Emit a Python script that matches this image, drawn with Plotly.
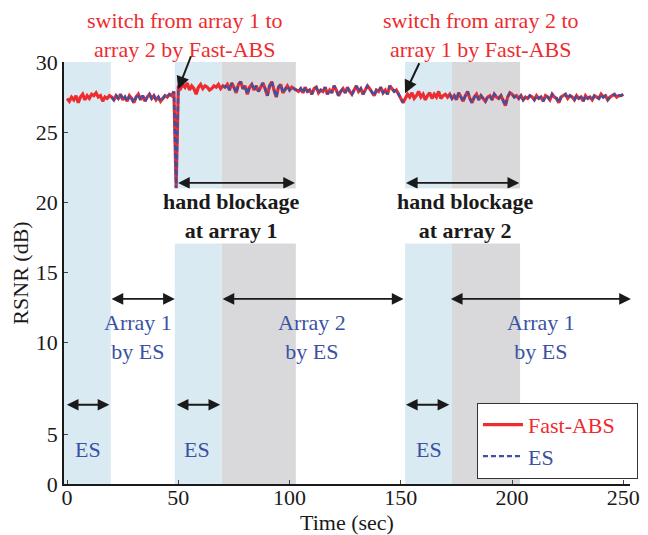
import plotly.graph_objects as go

# ---------------- data ----------------
time_sec = list(range(0, 251))

fast_abs = [
    27.4, 27.2, 27.5, 27.3, 27.6, 27.1, 27.5, 27.7, 27.3, 27.6,   # 0-9
    27.4, 27.7, 27.6, 27.8, 27.5, 27.6, 27.2, 27.5, 27.4, 27.6,   # 10-19
    27.5, 27.3, 27.6, 27.4, 27.7, 27.3, 27.5, 27.2, 27.6, 27.4,   # 20-29
    27.1, 27.5, 27.7, 27.3, 27.6, 27.2, 27.5, 27.7, 27.4, 27.6,   # 30-39
    27.3, 27.5, 27.2, 27.4, 27.6, 27.5, 27.7, 27.6, 27.9, 21.0,   # 40-49
    28.3, 28.1, 28.4, 28.2, 28.5, 28.0, 28.3, 28.1, 27.7, 28.2,   # 50-59
    28.4, 28.1, 28.3, 28.2, 28.0, 28.1, 28.3, 28.2, 28.4, 28.1,   # 60-69
    28.3, 28.2, 28.4, 28.0, 28.5, 28.2, 27.8, 28.4, 28.6, 28.1,   # 70-79
    28.3, 27.7, 28.2, 28.4, 28.0, 28.3, 27.9, 28.2, 28.5, 28.1,   # 80-89
    27.6, 28.3, 28.6, 28.0, 27.5, 28.2, 28.4, 27.8, 28.1, 28.3,   # 90-99
    28.0, 28.2, 28.1, 28.0, 27.9, 28.1, 27.8, 28.2, 27.9, 28.0,   # 100-109
    27.7, 28.1, 28.2, 27.8, 28.0, 27.9, 28.2, 27.7, 28.0, 27.8,   # 110-119
    28.3, 28.0, 27.6, 27.9, 28.1, 27.8, 28.2, 27.9, 27.7, 28.0,   # 120-129
    28.3, 27.9, 28.1, 27.7, 28.0, 28.3, 28.1, 27.8, 27.6, 28.0,   # 130-139
    27.9, 28.2, 27.8, 28.0, 27.7, 28.3, 28.1, 27.9, 28.0, 27.7,   # 140-149
    27.5, 27.1, 27.4, 27.7, 27.5, 27.8, 27.4, 27.6, 27.9, 27.5,   # 150-159
    27.7, 27.3, 27.6, 27.8, 27.4, 27.7, 27.5, 27.9, 27.4, 27.6,   # 160-169
    27.7, 27.5,                                                   # 170-171
    27.7, 27.4, 27.6, 27.3, 27.8, 27.5, 27.2, 27.6, 27.9, 27.4,   # 172-181
    27.1, 27.5, 27.7, 27.3, 27.6, 27.4, 27.2, 27.5, 27.6, 27.3,   # 182-191
    27.7, 27.5, 27.4, 27.6, 27.3, 26.9, 27.5, 27.8, 27.7, 27.5,   # 192-201
    27.6, 27.4, 27.6, 27.3, 27.5, 27.4, 27.6, 27.5, 27.3, 27.6,   # 202-211
    27.4, 27.5, 27.2, 27.6, 27.5, 27.3, 27.7, 27.5, 27.4, 27.1,   # 212-221
    27.5, 27.6, 27.7, 27.4, 27.6, 27.5, 27.3, 27.6, 27.4, 27.5,   # 222-231
    27.2, 27.6, 27.4, 27.5, 27.3, 27.6, 27.5, 27.4, 27.7, 27.5,   # 232-241
    27.6, 27.3, 27.5, 27.6, 27.7, 27.5, 27.6, 27.6, 27.7,         # 242-250
]

N = None
es = [
    N, N, N, N, N, N, N, N, N, N,                                 # 0-9
    N, N, N, N, N, N, N, N, N, N,                                 # 10-19
    27.5, 27.3, 27.6, 27.4, 27.7, 27.3, 27.5, 27.2, 27.6, 27.4,   # 20-29
    27.1, 27.5, 27.7, 27.3, 27.6, 27.2, 27.5, 27.7, 27.4, 27.6,   # 30-39
    27.3, 27.5, 27.2, 27.4, 27.6, 27.5, 27.7, 27.6, 27.9, 21.0,   # 40-49
    28.3, N, N, N, N, N, N, N, N, N,                              # 50-59
    N, N, N, N, N, N, N, N, N, N,                                 # 60-69
    28.3, 28.2, 28.4, 28.0, 28.5, 28.2, 27.8, 28.4, 28.6, 28.1,   # 70-79
    28.3, 27.7, 28.2, 28.4, 28.0, 28.3, 27.9, 28.2, 28.5, 28.1,   # 80-89
    27.6, 28.3, 28.6, 28.0, 27.5, 28.2, 28.4, 27.8, 28.1, 28.3,   # 90-99
    28.0, 28.2, 28.1, 28.0, 27.9, 28.1, 27.8, 28.2, 27.9, 28.0,   # 100-109
    27.7, 28.1, 28.2, 27.8, 28.0, 27.9, 28.2, 27.7, 28.0, 27.8,   # 110-119
    28.3, 28.0, 27.6, 27.9, 28.1, 27.8, 28.2, 27.9, 27.7, 28.0,   # 120-129
    28.3, 27.9, 28.1, 27.7, 28.0, 28.3, 28.1, 27.8, 27.6, 28.0,   # 130-139
    27.9, 28.2, 27.8, 28.0, 27.7, 28.3, 28.1, 27.9, 28.0, 27.7,   # 140-149
    27.5, 27.1, N, N, N, N, N, N, N, N,                           # 150-159
    N, N, N, N, N, N, N, N, N, N,                                 # 160-169
    N, N,                                                         # 170-171
    27.7, 27.4, 27.6, 27.3, 27.8, 27.5, 27.2, 27.6, 27.9, 27.4,   # 172-181
    27.1, 27.5, 27.7, 27.3, 27.6, 27.4, 27.2, 27.5, 27.6, 27.3,   # 182-191
    27.7, 27.5, 27.4, 27.6, 27.3, 26.9, 27.5, 27.8, 27.7, 27.5,   # 192-201
    27.6, 27.4, 27.6, 27.3, 27.5, 27.4, 27.6, 27.5, 27.3, 27.6,   # 202-211
    27.4, 27.5, 27.2, 27.6, 27.5, 27.3, 27.7, 27.5, 27.4, 27.1,   # 212-221
    27.5, 27.6, 27.7, 27.4, 27.6, 27.5, 27.3, 27.6, 27.4, 27.5,   # 222-231
    27.2, 27.6, 27.4, 27.5, 27.3, 27.6, 27.5, 27.4, 27.7, 27.5,   # 232-241
    27.6, 27.3, 27.5, 27.6, 27.7, 27.5, 27.6, 27.6, 27.7,         # 242-250
]

# phases (sec)
es_phases = [(-1.4, 19.6), (48.4, 69.5), (151.9, 173.0)]
blockage_phases = [(69.5, 102.8), (173.0, 203.6)]

x_ticks = [0, 50, 100, 150, 200, 250]
y_tick_labels = ["0", "5", "10", "15", "20", "25", "30"]

# ---------------- styling ----------------
RED = "#ee2b2e"
BLUE = "#3a52a3"
LIGHTBLUE = "#d9eaf2"
GRAY = "#d9d9db"
FONT = "Liberation Serif"
FS = 22

X0, X1 = -1.4, 253.0
Y0, Y1 = -0.09, 30.0
y_tick_pos = [Y0, 3.47, 10, 15, 20, 25, 30]

fig = go.Figure()

fig.add_trace(go.Scatter(
    x=time_sec, y=fast_abs, mode="lines",
    name="<span style='color:%s'>Fast-ABS</span>&nbsp;&nbsp;&nbsp;" % RED,
    line=dict(color=RED, width=3.2),
))
fig.add_trace(go.Scatter(
    x=time_sec, y=es, mode="lines",
    name="<span style='color:%s'>ES</span>" % BLUE,
    line=dict(color=BLUE, width=2.4, dash="5px,3px"),
    connectgaps=False,
))

shapes = []
for a, b in es_phases:
    shapes.append(dict(type="rect", xref="x", yref="paper", x0=a, x1=b, y0=0, y1=1,
                       fillcolor=LIGHTBLUE, line=dict(width=0), layer="below"))
for a, b in blockage_phases:
    shapes.append(dict(type="rect", xref="x", yref="paper", x0=a, x1=b, y0=0, y1=1,
                       fillcolor=GRAY, line=dict(width=0), layer="below"))

annotations = []


def darrow(xa, xb, y):
    annotations.append(dict(
        x=xb, y=y, ax=xa, ay=y, xref="x", yref="y", axref="x", ayref="y",
        text="", showarrow=True, arrowhead=2, startarrowhead=2, arrowside="end+start",
        arrowsize=1.3, startarrowsize=1.3, arrowwidth=1.8, arrowcolor="#1a1a1a",
    ))


# ES arrows
darrow(-0.8, 19.0, 5.56)
darrow(48.6, 68.8, 5.56)
darrow(151.6, 171.8, 5.56)
# by-ES arrows
darrow(19.3, 48.4, 13.11)
darrow(69.2, 151.2, 13.11)
darrow(171.8, 253.4, 13.11)
# blockage arrows
darrow(49.2, 102.4, 21.38)
darrow(151.6, 203.2, 21.38)


def label(x, y, text, color, bg=None, yref="y"):
    d = dict(x=x, y=y, xref="x", yref=yref, text=text, showarrow=False,
             xanchor="center", yanchor="middle",
             font=dict(family=FONT, size=FS, color=color), align="center")
    if bg:
        d["bgcolor"] = bg
        d["borderpad"] = 0
    annotations.append(d)


label(9.5, 2.35, "ES", BLUE)
label(58.5, 2.35, "ES", BLUE)
label(162.5, 2.35, "ES", BLUE)
label(32.0, 10.41, "Array 1<br>by ES", BLUE)
label(110.0, 10.41, "Array 2<br>by ES", BLUE)
label(212.8, 10.41, "Array 1<br>by ES", BLUE)
label(74.0, 19.05, "<b>hand blockage<br>at array 1</b>", "#1a1a1a", bg="white")
label(179.2, 19.05, "<b>hand blockage<br>at array 2</b>", "#1a1a1a", bg="white")
# above the plot area (paper coords: 1.0 = top of axes)
label(52.8, 1.064, "switch from array 1 to<br>array 2 by Fast-ABS", RED, yref="paper")
label(186.0, 1.064, "switch from array 2 to<br>array 1 by Fast-ABS", RED, yref="paper")

# switch pointers
for tip, tail in [((49.9, 28.05), (55.9, 30.5)), ((151.9, 27.77), (158.6, 30.02))]:
    annotations.append(dict(
        x=tip[0], y=tip[1], ax=tail[0], ay=tail[1], xref="x", yref="y",
        axref="x", ayref="y", text="", showarrow=True, arrowhead=2,
        arrowsize=1.3, arrowwidth=2, arrowcolor="#1a1a1a",
    ))

# the page body adds an 8px offset, so the figure is 8px smaller on each side
fig.update_layout(
    width=640, height=527,
    margin=dict(l=56, r=18, t=54, b=51, autoexpand=False),
    paper_bgcolor="white", plot_bgcolor="white",
    font=dict(family=FONT, size=FS, color="#1a1a1a"),
    shapes=shapes, annotations=annotations,
    showlegend=True,
    legend=dict(x=0.7296, y=0.1925, xanchor="left", yanchor="top",
                bgcolor="white", bordercolor="#333333", borderwidth=1,
                font=dict(family=FONT, size=FS), tracegroupgap=0,
                itemwidth=40),
)
fig.update_xaxes(
    range=[X0, X1], tickvals=x_ticks, ticks="inside", ticklen=4, automargin=False,
    ticklabelstandoff=-7,
    showline=True, linecolor="#1a1a1a", linewidth=1.5, showgrid=False, zeroline=False,
    title=dict(text="Time (sec)", standoff=4, font=dict(size=FS)),
    tickfont=dict(size=FS),
)
fig.update_yaxes(
    range=[Y0, Y1], tickvals=y_tick_pos, ticktext=y_tick_labels, ticks="inside", ticklen=4,
    automargin=False,
    showline=True, linecolor="#1a1a1a", linewidth=1.5, showgrid=False, zeroline=False,
    title=dict(text="RSNR (dB)", standoff=4, font=dict(size=FS)),
    tickfont=dict(size=FS),
)

fig.write_html("out.html")
